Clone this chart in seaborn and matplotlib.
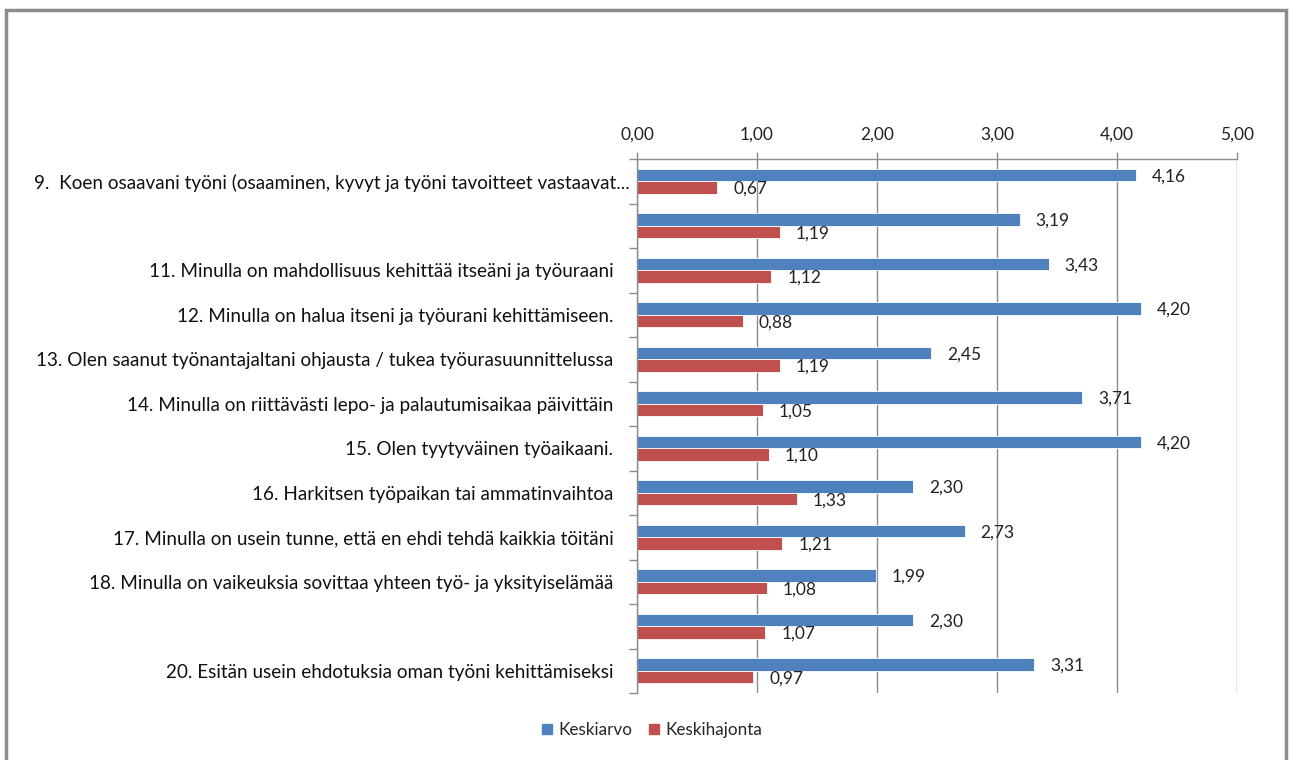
import matplotlib
matplotlib.use("Agg")
import matplotlib.pyplot as plt
from matplotlib.patches import Rectangle
from matplotlib.ticker import FixedLocator
import seaborn as sns
import pandas as pd

# Survey items (question number keys and their displayed texts)
item_keys = ["9", "10", "11", "12", "13", "14", "15", "16", "17", "18", "19", "20"]
item_labels = [
    "9.  Koen osaavani työni (osaaminen, kyvyt ja työni tavoitteet vastaavat...",
    "",
    "11. Minulla on mahdollisuus kehittää itseäni ja työuraani",
    "12. Minulla on halua itseni ja työurani kehittämiseen.",
    "13. Olen saanut työnantajaltani ohjausta / tukea työurasuunnittelussa",
    "14. Minulla on riittävästi lepo- ja palautumisaikaa päivittäin",
    "15. Olen tyytyväinen työaikaani.",
    "16. Harkitsen työpaikan tai ammatinvaihtoa",
    "17. Minulla on usein tunne, että en ehdi tehdä kaikkia töitäni",
    "18. Minulla on vaikeuksia sovittaa yhteen työ- ja yksityiselämää",
    "",
    "20. Esitän usein ehdotuksia oman työni kehittämiseksi",
]
series_names = ["Keskiarvo", "Keskihajonta"]
mean_values = [4.16, 3.19, 3.43, 4.20, 2.45, 3.71, 4.20, 2.30, 2.73, 1.99, 2.30, 3.31]
sd_values = [0.67, 1.19, 1.12, 0.88, 1.19, 1.05, 1.10, 1.33, 1.21, 1.08, 1.07, 0.97]
x_ticks = [0, 1, 2, 3, 4, 5]

BLUE = "#4F81BD"
RED = "#C0504D"
GRID = "#8C8C8C"

df = pd.DataFrame({
    "item": item_keys * 2,
    "value": mean_values + sd_values,
    "series": [series_names[0]] * len(item_keys) + [series_names[1]] * len(item_keys),
})

sns.set_theme(style="white")
plt.rcParams["font.family"] = ["Lato", "DejaVu Sans"]

fig = plt.figure(figsize=(12.9, 7.6), dpi=100)
ax = fig.add_axes([637 / 1290, 1 - 693 / 760, 600 / 1290, 534 / 760])

sns.barplot(
    data=df, y="item", x="value", hue="series", order=item_keys,
    hue_order=series_names, palette=[BLUE, RED], orient="h",
    width=0.56, gap=0, ax=ax, legend=False, saturation=1,
    edgecolor="white", linewidth=0.6,
)

ax.set_xlim(0, 5)
ax.set_ylim(len(item_keys) - 0.5, -0.5)
ax.set_xlabel("")
ax.set_ylabel("")

# Value axis on top with comma decimals
ax.xaxis.set_ticks_position("top")
ax.xaxis.set_label_position("top")
ax.set_xticks(x_ticks)
ax.set_xticklabels([f"{t:.2f}".replace(".", ",") for t in x_ticks], fontsize=12.5, color="#222222")
ax.tick_params(axis="x", which="major", length=5, width=1, color=GRID, pad=7, top=True, bottom=False)
ax.grid(axis="x", color=GRID, linewidth=1)
ax.set_axisbelow(True)

# Category axis: labels at centres, tick marks at boundaries
ax.set_yticks(range(len(item_keys)))
ax.set_yticklabels(item_labels, fontsize=13.6, color="#111111")
ax.tick_params(axis="y", which="major", length=0, pad=17)
ax.yaxis.set_minor_locator(FixedLocator([i - 0.5 for i in range(len(item_keys) + 1)]))
ax.tick_params(axis="y", which="minor", length=6, width=1, color=GRID, left=True)
ax.yaxis.get_major_ticks()[0].set_pad(5)

for side in ["right", "bottom"]:
    ax.spines[side].set_visible(False)
for side in ["left", "top"]:
    ax.spines[side].set_color(GRID)
    ax.spines[side].set_linewidth(1)

# Value labels next to each bar
for container in ax.containers:
    texts = ax.bar_label(container, labels=[f"{b.get_width():.2f}".replace(".", ",") for b in container],
                         padding=11.5, fontsize=12.5, color="#222222")
    for t in texts:
        t.set_verticalalignment("center_baseline")

# Legend below the plot
handles = [Rectangle((0, 0), 1, 1, color=c) for c in [BLUE, RED]]
fig.legend(handles, series_names, loc="center", bbox_to_anchor=(652 / 1290, 1 - 730 / 760),
           ncol=2, frameon=False, fontsize=12.3, handlelength=0.6, handleheight=0.6,
           handletextpad=0.35, columnspacing=1.0)

# Chart frame
fig.patches.append(Rectangle((6 / 1290, -0.05), 1280 / 1290, 1.05 - 10 / 760,
                             transform=fig.transFigure, fill=False,
                             edgecolor="#8C8C8C", linewidth=2.5))

fig.savefig("out.png", dpi=100)
